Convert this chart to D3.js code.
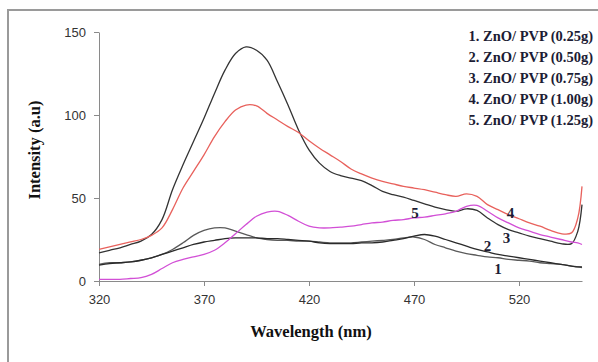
<!DOCTYPE html>
<meta charset="utf-8">
<style>
body { margin: 0; background: #fff; }
.axis path, .axis line { stroke: #8a8a8a; }
.axis text { font-family: "Liberation Sans", Arial, sans-serif; font-size: 13px; fill: #333; }
.title { font-family: "Liberation Serif", "Times New Roman", serif; font-weight: bold; font-size: 16.5px; fill: #111; }
.legend { font-family: "Liberation Serif", "Times New Roman", serif; font-weight: bold; font-size: 14.5px; fill: #1c1c34; }
.curvelabel { font-family: "Liberation Serif", "Times New Roman", serif; font-weight: bold; font-size: 15px; fill: #1c1c34; }
</style>
<body>
<svg width="598" height="362"></svg>
<script src="https://d3js.org/d3.v7.min.js"></script>
<script>

// wavelength grid (nm), shared by all five spectra
var wavelength = [320,325,330,335,340,345,350,355,360,365,370,375,380,385,390,395,400,405,410,415,420,425,430,435,440,445,450,455,460,465,470,475,480,485,490,495,500,505,510,515,520,525,530,535,540,545,548,550];

var pvp025 = [10,11,11,11.5,12.5,14,16,19,23,27.5,30.5,32,32,30,28,26,25,24.5,24.5,24,24,23.5,23,23,23,23.5,24,24.5,25,26,26.5,25,22,20,18,16.5,15.5,14.5,14,13,12.5,12,11,10.5,10,9,8.5,8];
var pvp050 = [9.5,10.5,11,11.5,12.5,14,16,18,20,22,23.5,24.5,25.5,26,26,26,25.5,25.5,25,24.5,24,23,22.5,22.5,22.5,23,23,23.5,24.5,25.5,27,28,27,25,23,21,19,17.5,16,15,14,13,12,11,10,9,8.5,8.5];
var pvp075 = [17,18.5,20,22,24,28,37,55,70,84,98,113,127,137,141,139,133,120,106,91,79,71,66,63.5,62,60.5,57.5,54,52,50.5,48.5,46.5,44.5,43,42,43.5,42.5,38,34,31,29,27,25.5,24,22.5,22.5,30,46];
var pvp100 = [19,20.5,22,23.5,25,27.5,32,43,56,66,76,87,96,103,106,105.5,101,97,93,89.5,84.5,80,76,72,67.5,64.5,62,60,58.5,57,56,55,53.5,52,51,52.5,51,46,43,40,37.5,35,33,30.5,28.5,29,38,57];
var pvp125 = [1,1,1,1.5,2,4,7.5,11,13,14.5,16,18.5,23,28.5,34,39,41.5,42,39.5,36,33,32,32,32.5,33,34,35,35.5,36.5,37,38,38.5,39.5,40.5,42,45,45.5,42,38,35,32,30,28,26.5,25,23.5,23,22];

var legendText = ["1. ZnO/ PVP (0.25g)", "2. ZnO/ PVP (0.50g)", "3. ZnO/ PVP (0.75g)", "4. ZnO/ PVP (1.00g)", "5. ZnO/ PVP (1.25g)"];
var lineColors = ["#5a5a5a", "#2a2a2a", "#333333", "#e8615c", "#d24fd6"];

// curve numbers drawn next to the lines, in data units
var tagNames = ["1", "2", "3", "4", "5"];
var tagWl = [510, 505, 514, 516, 470.5];
var tagInt = [7.5, 21.5, 26, 41, 41];

var xTicks = [320, 370, 420, 470, 520];
var yTicks = [0, 50, 100, 150];

var svg = d3.select("svg");

// outer frame
svg.append("rect")
    .attr("x", 8).attr("y", 10)
    .attr("width", 600).attr("height", 360)
    .attr("fill", "none")
    .attr("stroke", "#9a9a9a")
    .attr("stroke-width", 2);

var x = d3.scaleLinear().domain([320, 550]).range([99, 582]),
    y = d3.scaleLinear().domain([0, 150]).range([281, 32]);

svg.append("g")
    .attr("class", "axis")
    .attr("transform", "translate(0,281)")
    .call(d3.axisBottom(x).tickValues(xTicks).tickSize(5).tickPadding(9).tickSizeOuter(0));

svg.append("g")
    .attr("class", "axis")
    .attr("transform", "translate(99,0)")
    .call(d3.axisLeft(y).tickValues(yTicks).tickSize(5).tickPadding(8).tickSizeOuter(0));

var series = [pvp025, pvp050, pvp075, pvp100, pvp125];

var line = d3.line()
    .x(function(d, i) { return x(wavelength[i]); })
    .y(function(d) { return y(d); })
    .curve(d3.curveCatmullRom.alpha(0.5));

svg.selectAll(".spectrum")
    .data(series)
  .enter().append("path")
    .attr("class", "spectrum")
    .attr("fill", "none")
    .attr("stroke", function(d, i) { return lineColors[i]; })
    .attr("stroke-width", 1.3)
    .attr("d", line);

// numbers on the curves
svg.selectAll(".curvelabel")
    .data(tagNames)
  .enter().append("text")
    .attr("class", "curvelabel")
    .attr("x", function(d, i) { return x(tagWl[i]); })
    .attr("y", function(d, i) { return y(tagInt[i]); })
    .attr("text-anchor", "middle")
    .attr("dy", "0.35em")
    .text(function(d) { return d; });

// legend, right aligned
svg.selectAll(".legend")
    .data(legendText)
  .enter().append("text")
    .attr("class", "legend")
    .attr("x", 593)
    .attr("y", function(d, i) { return 36 + i * 21; })
    .attr("dy", "0.35em")
    .attr("text-anchor", "end")
    .text(function(d) { return d; });

svg.append("text")
    .attr("class", "title")
    .attr("x", 311)
    .attr("y", 337)
    .attr("text-anchor", "middle")
    .text("Wavelength (nm)");

svg.append("text")
    .attr("class", "title")
    .attr("transform", "translate(40,150) rotate(-90)")
    .attr("text-anchor", "middle")
    .text("Intensity (a.u)");

</script>
</body>
